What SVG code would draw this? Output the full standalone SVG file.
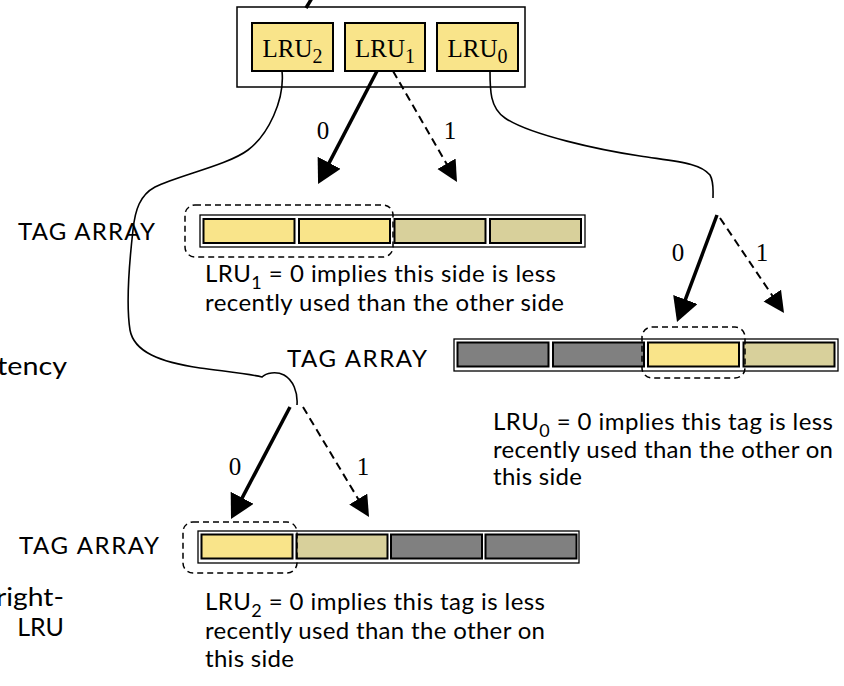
<svg xmlns="http://www.w3.org/2000/svg" width="844" height="686" viewBox="0 0 844 686">
  <style>
    .frame { fill: #ffffff; stroke: #000000; stroke-width: 1.5; }
    .bit { fill: #f9e48a; stroke: #000000; stroke-width: 2; }
    .outer { fill: #ffffff; stroke: #000000; stroke-width: 1.3; }
    .mru { fill: #f9e48a; stroke: #000000; stroke-width: 2; }
    .old { fill: #d8d09b; stroke: #000000; stroke-width: 2; }
    .off { fill: #808080; stroke: #000000; stroke-width: 2; }
    .group { fill: none; stroke: #000000; stroke-width: 1.5; stroke-dasharray: 6 4; }
    .wire { fill: none; stroke: #000000; stroke-width: 1.6; }
    .zero { fill: none; stroke: #000000; stroke-width: 3.5; }
    .one { fill: none; stroke: #000000; stroke-width: 2; stroke-dasharray: 8 5; }
    .serif { font-family: "Liberation Serif", "Times New Roman", serif; fill: #000000; }
    .sans { font-family: Lato, "Open Sans", sans-serif; fill: #000000; font-size: 24px; }
    .edge { font-family: Lato, "Open Sans", sans-serif; fill: #000000; font-size: 25px; }
  </style>
  <defs>
    <marker id="headSolid" markerUnits="userSpaceOnUse" markerWidth="26" markerHeight="28" refX="6" refY="13" orient="auto">
      <path d="M0,0 L24,13 L0,26 Z" fill="#000000"/>
    </marker>
    <marker id="headDash" markerUnits="userSpaceOnUse" markerWidth="23" markerHeight="23" refX="5" refY="10.5" orient="auto">
      <path d="M0,0 L21,10.5 L0,21 Z" fill="#000000"/>
    </marker>
  </defs>

  <!-- LRU bit register -->
  <g id="lru-bits">
    <rect class="frame" x="237" y="7" width="288" height="80"/>
    <g id="bit-lru2">
      <rect class="bit" x="252" y="23" width="81" height="48"/>
      <text class="serif" x="292.5" y="57" font-size="25" text-anchor="middle">LRU<tspan font-size="20" dy="6">2</tspan></text>
    </g>
    <g id="bit-lru1">
      <rect class="bit" x="345" y="23" width="80" height="48"/>
      <text class="serif" x="385" y="57" font-size="25" text-anchor="middle">LRU<tspan font-size="20" dy="6">1</tspan></text>
    </g>
    <g id="bit-lru0">
      <rect class="bit" x="437" y="23" width="81" height="48"/>
      <text class="serif" x="477.5" y="57" font-size="25" text-anchor="middle">LRU<tspan font-size="20" dy="6">0</tspan></text>
    </g>
  </g>

  <!-- upper tag array: both halves -->
  <g id="tag-array-top">
    <text class="sans" x="18" y="240" textLength="137">TAG ARRAY</text>
    <rect class="outer" x="200" y="215" width="385" height="32"/>
    <rect class="mru" x="203.5" y="219" width="91" height="24"/>
    <rect class="mru" x="299" y="219" width="91" height="24"/>
    <rect class="old" x="394.5" y="219" width="91" height="24"/>
    <rect class="old" x="490" y="219" width="91" height="24"/>
    <rect class="group" x="185" y="205" width="208" height="52" rx="10"/>
  </g>

  <!-- middle tag array: right side -->
  <g id="tag-array-right">
    <text class="sans" x="287" y="367" textLength="140">TAG ARRAY</text>
    <rect class="outer" x="454" y="339" width="384" height="32"/>
    <rect class="off" x="457.5" y="342.5" width="91" height="24"/>
    <rect class="off" x="553" y="342.5" width="91" height="24"/>
    <rect class="mru" x="648" y="342.5" width="91" height="24"/>
    <rect class="old" x="743.5" y="342.5" width="91" height="24"/>
    <rect class="group" x="642" y="327" width="103" height="51" rx="10"/>
  </g>

  <!-- lower tag array: left side -->
  <g id="tag-array-left">
    <text class="sans" x="19" y="554" textLength="140">TAG ARRAY</text>
    <rect class="outer" x="198" y="531" width="381" height="32"/>
    <rect class="mru" x="201.5" y="534.5" width="91" height="24"/>
    <rect class="old" x="296.5" y="534.5" width="91" height="24"/>
    <rect class="off" x="391" y="534.5" width="91" height="24"/>
    <rect class="off" x="485.5" y="534.5" width="91" height="24"/>
    <rect class="group" x="183" y="522" width="114" height="51" rx="10"/>
  </g>

  <!-- explanatory notes -->
  <g id="note-lru1">
    <text class="sans" x="205" y="282" textLength="351">LRU<tspan font-size="18" dy="7">1</tspan><tspan dy="-7"> = 0 implies this side is less</tspan></text>
    <text class="sans" x="205" y="311" textLength="359">recently used than the other side</text>
  </g>
  <g id="note-lru0">
    <text class="sans" x="493" y="430" textLength="340">LRU<tspan font-size="18" dy="7">0</tspan><tspan dy="-7"> = 0 implies this tag is less</tspan></text>
    <text class="sans" x="493" y="458" textLength="340">recently used than the other on</text>
    <text class="sans" x="493" y="485" textLength="89">this side</text>
  </g>
  <g id="note-lru2">
    <text class="sans" x="205" y="610" textLength="340">LRU<tspan font-size="18" dy="7">2</tspan><tspan dy="-7"> = 0 implies this tag is less</tspan></text>
    <text class="sans" x="205" y="639" textLength="340">recently used than the other on</text>
    <text class="sans" x="205" y="667" textLength="89">this side</text>
  </g>

  <!-- text running in from the left margin -->
  <g id="margin-text">
    <text class="edge" x="-3" y="375" textLength="70" lengthAdjust="spacingAndGlyphs">tency</text>
    <text class="edge" x="-4" y="606" textLength="68" lengthAdjust="spacingAndGlyphs">right-</text>
    <text class="edge" x="64" y="636" text-anchor="end">LRU</text>
  </g>

  <!-- connectors -->
  <g id="connectors">
    <path class="zero" d="M312,-2 L306,8"/>
    <path class="wire" d="M282,71 C285,100 268,135 248,150 C228,165 180,175 155,187 C140,195 135,210 133,230 C129,265 126,305 130,330 C134,352 160,362 200,368 C230,372 250,374 262,377 C266,373 276,371 284,375 C293,380 298,392 297,405"/>
    <path class="wire" d="M490,71 C490,90 490,108 505,118 C530,135 600,150 640,156 C680,162 700,163 710,175 C714,182 713,190 713,198"/>

    <line class="zero" x1="377" y1="71" x2="326.4" y2="168.1" marker-end="url(#headSolid)"/>
    <line class="one" x1="393" y1="71" x2="449" y2="168.1" marker-end="url(#headDash)"/>
    <text class="serif" x="323" y="139" font-size="25" text-anchor="middle">0</text>
    <text class="serif" x="450" y="139" font-size="25" text-anchor="middle">1</text>

    <line class="zero" x1="717" y1="215" x2="683.3" y2="305.1" marker-end="url(#headSolid)"/>
    <line class="one" x1="720" y1="218" x2="775.1" y2="299.7" marker-end="url(#headDash)"/>
    <text class="serif" x="678" y="261" font-size="25" text-anchor="middle">0</text>
    <text class="serif" x="762" y="261" font-size="25" text-anchor="middle">1</text>

    <line class="zero" x1="290" y1="407" x2="239.4" y2="503.1" marker-end="url(#headSolid)"/>
    <line class="one" x1="303" y1="407" x2="360.8" y2="503.3" marker-end="url(#headDash)"/>
    <text class="serif" x="235" y="475" font-size="25" text-anchor="middle">0</text>
    <text class="serif" x="363" y="475" font-size="25" text-anchor="middle">1</text>
  </g>
</svg>
